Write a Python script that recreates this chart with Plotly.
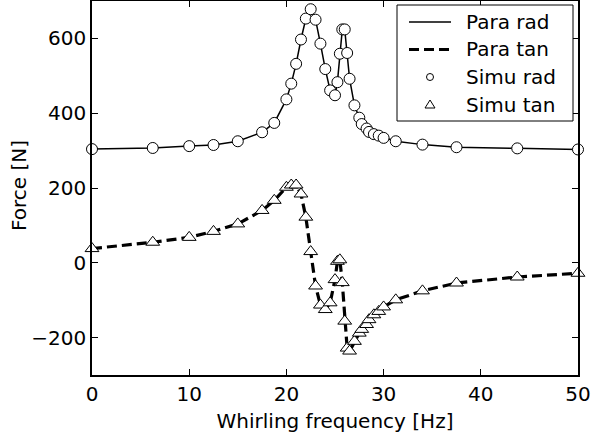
import plotly.graph_objects as go

freq = [0, 6.25, 10, 12.5, 15, 17.5, 18.75, 20, 20.5, 21, 21.5, 22, 22.5, 23, 23.5,
        24, 24.5, 25, 25.25, 25.5, 25.75, 26, 26.25, 26.5, 27, 27.5, 27.75, 28.25,
        28.5, 29, 29.5, 30, 31.25, 34, 37.5, 43.75, 50]
rad = [304, 307, 312, 315, 325, 349, 374, 437, 479, 532, 597, 653, 678, 650, 586,
       518, 461, 448, 483, 559, 624, 624, 561, 492, 421, 388, 371, 359,
       350, 344, 340, 334, 325, 316, 309, 306, 303]
tan = [38, 55, 68, 84, 104, 140, 167, 202, 208, 208, 184, 122, 30, -62, -113,
       -125, -107, -45, 4, 8, -53, -156, -228, -236, -210, -188, -178, -165,
       -152, -139, -130, -118, -99, -75, -54, -38, -28]

x_ticks = [0, 10, 20, 30, 40, 50]
y_ticks = [-200, 0, 200, 400, 600]
legend_names = ["Para rad", "Para tan", "Simu rad", "Simu tan"]
x_title = "Whirling frequency [Hz]"
y_title = "Force [N]"

FONT = "DejaVu Sans"
W, H = 593, 441
ML, MR, MT, MB = 92, 15, 1, 66
PW, PH = W - ML - MR, H - MT - MB


def px(x):
    return (x - ML) / PW


def py(y):
    return (H - MB - y) / PH


fig = go.Figure()
fig.add_trace(go.Scatter(x=freq, y=rad, mode="lines", name=legend_names[0],
                         line=dict(color="black", width=1.5)))
fig.add_trace(go.Scatter(x=freq, y=tan, mode="lines", name=legend_names[1],
                         line=dict(color="black", width=3.2, dash="10px,5px")))
fig.add_trace(go.Scatter(x=freq, y=rad, mode="markers", name=legend_names[2], cliponaxis=False,
                         marker=dict(symbol="circle", size=11, color="white",
                                     line=dict(color="black", width=1))))
fig.add_trace(go.Scatter(x=freq, y=tan, mode="markers", name=legend_names[3], cliponaxis=False,
                         marker=dict(symbol="triangle-up", size=12, color="white",
                                     line=dict(color="black", width=1))))

axis_common = dict(showline=True, linecolor="black", linewidth=1.5, mirror="ticks",
                   ticks="inside", ticklen=6, tickwidth=1, tickcolor="black",
                   showgrid=False, zeroline=False, automargin=False,
                   tickfont=dict(family=FONT, size=20, color="black"))

fig.update_xaxes(range=[0, 50], tickvals=x_ticks,
                 title=dict(text=x_title, standoff=9,
                            font=dict(family=FONT, size=20, color="black")),
                 **axis_common)
fig.update_yaxes(range=[-300, 700], tickvals=y_ticks, **axis_common)

# legend box drawn in the MATLAB style
shapes = [dict(type="rect", xref="paper", yref="paper",
               x0=px(397), x1=px(573), y0=py(121), y1=py(5),
               line=dict(color="black", width=1), fillcolor="white", layer="above")]
rows = [22, 49.5, 77, 104.5]
shapes.append(dict(type="line", xref="paper", yref="paper", x0=px(409), x1=px(451),
                   y0=py(rows[0]), y1=py(rows[0]), line=dict(color="black", width=1.5), layer="above"))
shapes.append(dict(type="line", xref="paper", yref="paper", x0=px(409), x1=px(451),
                   y0=py(rows[1]), y1=py(rows[1]), line=dict(color="black", width=3.2, dash="10px,5px"),
                   layer="above"))
shapes.append(dict(type="circle", xref="paper", yref="paper", xsizemode="pixel", ysizemode="pixel",
                   xanchor=px(430), yanchor=py(rows[2]), x0=-3.5, x1=3.5, y0=-3.5, y1=3.5,
                   line=dict(color="black", width=1), fillcolor="white", layer="above"))
shapes.append(dict(type="path", xref="paper", yref="paper", xsizemode="pixel", ysizemode="pixel",
                   xanchor=px(430), yanchor=py(rows[3]), path="M -5 -3.5 L 5 -3.5 L 0 4.5 Z",
                   line=dict(color="black", width=1), fillcolor="white", layer="above"))

annotations = [dict(text=name, xref="paper", yref="paper", x=px(464), y=py(r),
                    xanchor="left", yanchor="middle", showarrow=False,
                    font=dict(family=FONT, size=20, color="black"))
               for name, r in zip(legend_names, rows)]
annotations.append(dict(text=y_title, xref="paper", yref="paper", x=px(19), y=py(186),
                        xanchor="center", yanchor="middle", textangle=-90, showarrow=False,
                        font=dict(family=FONT, size=20, color="black")))

fig.update_layout(
    width=W, height=H,
    margin=dict(l=ML, r=MR, t=MT, b=MB, autoexpand=False),
    paper_bgcolor="white", plot_bgcolor="white",
    font=dict(family=FONT, size=20, color="black"),
    showlegend=False,
    shapes=shapes, annotations=annotations,
)

fig.write_html("out.html", config={"displayModeBar": False},
               post_script="document.body.style.margin='0px';")
